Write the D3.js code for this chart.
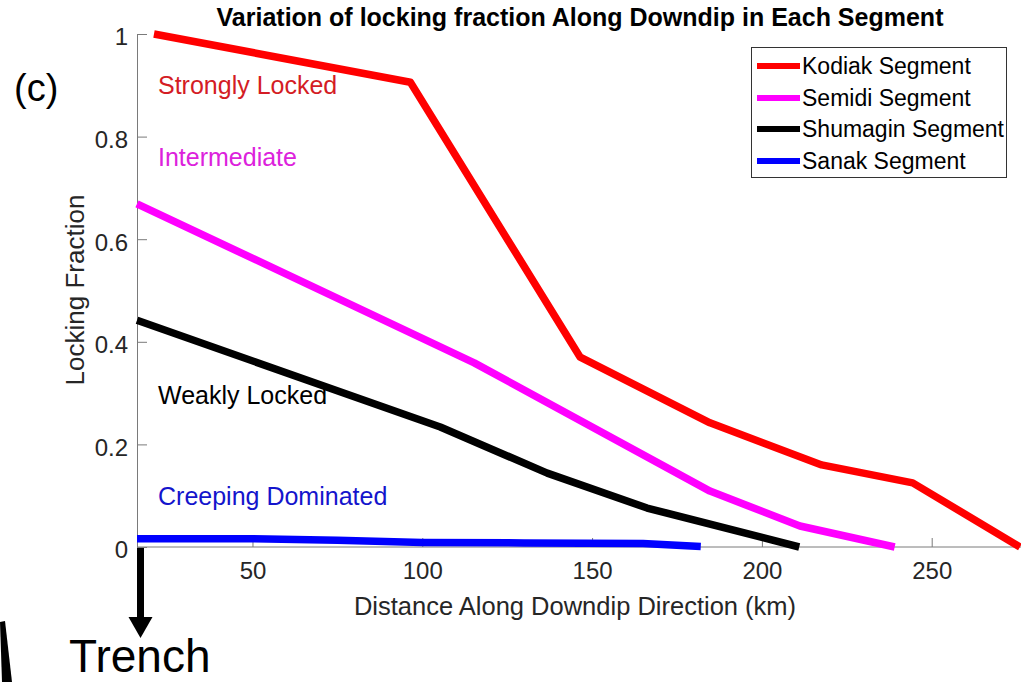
<!DOCTYPE html>
<html>
<head>
<meta charset="utf-8">
<script src="https://cdn.jsdelivr.net/npm/d3@7/dist/d3.min.js"></script>
<style>
  html, body { margin: 0; padding: 0; background: #fff; }
  svg { display: block; font-family: "Liberation Sans", Arial, sans-serif; }
</style>
</head>
<body>
<svg id="chart" width="1021" height="682"></svg>
<script>
// Locking fraction along the downdip direction, one series per segment
const segmentNames = ["Kodiak Segment", "Semidi Segment", "Shumagin Segment", "Sanak Segment"];
const segmentColors = ["#ff0000", "#ff00ff", "#000000", "#0000ff"];

const kodiakDist   = [21, 96.5, 146.5, 184.7, 217.6, 244.4, 276];
const kodiakLock   = [1.0, 0.906, 0.370, 0.242, 0.160, 0.125, 0.0];
const semidiDist   = [16, 115.3, 184.7, 211.2, 239.1];
const semidiLock   = [0.669, 0.359, 0.109, 0.041, 0.0];
const shumaginDist = [16, 105.3, 136.8, 166.2, 211];
const shumaginLock = [0.442, 0.234, 0.144, 0.076, 0.0];
const sanakDist    = [16, 50, 75, 100, 130, 165, 182];
const sanakLock    = [0.016, 0.016, 0.013, 0.009, 0.008, 0.007, 0.001];

const xTicks = [50, 100, 150, 200, 250];
const yTicks = [0, 0.2, 0.4, 0.6, 0.8, 1];

const zoneLabels = ["Strongly Locked", "Intermediate", "Weakly Locked", "Creeping Dominated"];
const zoneColors = ["#d41c24", "#dc22dc", "#000000", "#1414cc"];
const zoneLabelY = [94, 166, 404, 505];

const seriesDist = [kodiakDist, semidiDist, shumaginDist, sanakDist];
const seriesLock = [kodiakLock, semidiLock, shumaginLock, sanakLock];

const svg = d3.select("#chart");
const x = d3.scaleLinear().domain([16, 276]).range([137, 1020]);
const y = d3.scaleLinear().domain([0, 1]).range([547, 34]);

const axisColor = "#7a7a7a";
const textColor = "#262626";

// Axes (left and bottom only, ticks pointing inward)
const xAxis = svg.append("g").attr("transform", `translate(0,${y(0)})`)
  .call(d3.axisBottom(x).tickValues(xTicks).tickSizeInner(-9).tickSizeOuter(0).tickPadding(18));
xAxis.select(".domain").attr("stroke", axisColor).attr("d", `M${x.range()[0]},0H1021`);
xAxis.selectAll(".tick line").attr("stroke", axisColor);
xAxis.selectAll(".tick text").attr("fill", textColor).attr("font-size", 24)
  .attr("font-family", "Liberation Sans, Arial, sans-serif").attr("dy", "0.71em").attr("y", 15);

const yAxis = svg.append("g").attr("transform", `translate(${x.range()[0]},0)`)
  .call(d3.axisLeft(y).tickValues(yTicks).tickFormat(d3.format("~g")).tickSizeInner(-10).tickSizeOuter(0).tickPadding(10));
yAxis.select(".domain").attr("stroke", axisColor);
yAxis.selectAll(".tick line").attr("stroke", axisColor);
yAxis.selectAll(".tick text").attr("fill", textColor).attr("font-size", 24)
  .attr("font-family", "Liberation Sans, Arial, sans-serif").attr("x", -9).attr("dy", "0.45em");

// Series lines
const line = d3.line().x(d => x(d[0])).y(d => y(d[1]));
seriesDist.forEach((dist, i) => {
  const pts = dist.map((d, j) => [d, seriesLock[i][j]]);
  svg.append("path")
    .attr("d", line(pts))
    .attr("fill", "none")
    .attr("stroke", segmentColors[i])
    .attr("stroke-width", 7.5)
    .attr("stroke-linejoin", "round");
});

// Zone annotations
zoneLabels.forEach((t, i) => {
  svg.append("text").attr("x", 158).attr("y", zoneLabelY[i])
    .attr("fill", zoneColors[i]).attr("font-size", 25).text(t);
});

// Title and axis labels
svg.append("text").attr("x", 580).attr("y", 26).attr("text-anchor", "middle")
  .attr("font-weight", "bold").attr("font-size", 25).attr("fill", "#000")
  .text("Variation of locking fraction Along Downdip in Each Segment");
svg.append("text").attr("x", 575).attr("y", 615).attr("text-anchor", "middle")
  .attr("font-size", 25.5).attr("fill", textColor)
  .text("Distance Along Downdip Direction (km)");
svg.append("text").attr("transform", "translate(84,290) rotate(-90)").attr("text-anchor", "middle")
  .attr("font-size", 26).attr("fill", textColor).text("Locking Fraction");

// Panel letter
svg.append("text").attr("x", 14).attr("y", 101).attr("font-size", 38).attr("fill", "#000").text("(c)");

// Legend
const lg = svg.append("g");
lg.append("rect").attr("x", 751.5).attr("y", 47.5).attr("width", 255).attr("height", 130)
  .attr("fill", "#fff").attr("stroke", "#333").attr("stroke-width", 1);
const legendRowY = [66, 98, 129, 161];
segmentNames.forEach((n, i) => {
  lg.append("line").attr("x1", 757).attr("x2", 800).attr("y1", legendRowY[i]).attr("y2", legendRowY[i])
    .attr("stroke", segmentColors[i]).attr("stroke-width", 6);
  lg.append("text").attr("x", 802).attr("y", legendRowY[i]).attr("dy", "0.36em")
    .attr("font-size", 23).attr("fill", "#000").text(n);
});

// Trench arrow below the axis origin
const ax = x(16) + 3.5;
svg.append("line").attr("x1", ax).attr("x2", ax).attr("y1", y(0) + 1).attr("y2", 620)
  .attr("stroke", "#000").attr("stroke-width", 7);
svg.append("path").attr("d", `M${ax - 12},617L${ax + 12},617L${ax},638Z`).attr("fill", "#000");
svg.append("text").attr("x", 69).attr("y", 672).attr("font-size", 46).attr("fill", "#000").text("Trench");

// Edge of a neighbouring schematic
svg.append("path").attr("d", "M0,622L5,621L12,682L2,682Z").attr("fill", "#000");
</script>
</body>
</html>
